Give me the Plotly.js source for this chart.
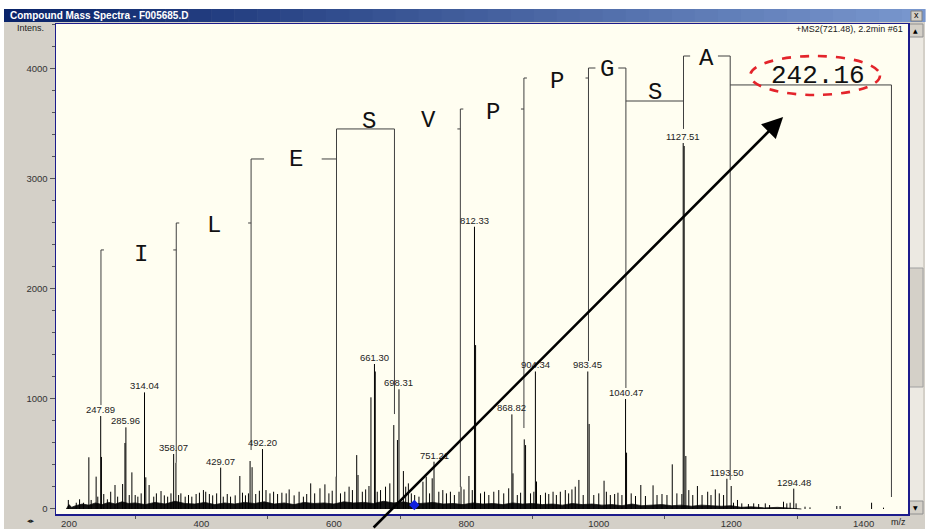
<!DOCTYPE html>
<html><head><meta charset="utf-8">
<script src="https://cdn.plot.ly/plotly-3.0.1.min.js"></script>
<style>html,body{margin:0;padding:0;background:#fff;overflow:hidden}#chart{width:931px;height:529px}</style>
</head><body><div id="chart"></div>
<script>
// ---- labelled peaks (m/z, intensity) ----
const labelMz  = [247.89, 285.96, 314.04, 358.07, 429.07, 492.20, 661.30, 698.31, 751.21, 812.33, 868.82, 904.34, 983.45, 1040.47, 1127.51, 1193.50, 1294.48];
const labelInt = [845, 742, 1060, 500, 376, 545, 1318, 1088, 430, 2566, 860, 1250, 1250, 1000, 3327, 275, 185];

// ---- other (unlabelled) peaks ----
const peakMz = [199,211,216,222,230,233.5,241,243.5,249,252.5,258,263,269.5,273.5,281,284.5,291,295,300,304,309,316,321,328,332,339,344,349,354,361.5,365.5,369,375.5,380.5,385.5,392,397,403,406.5,412,417,423,433,439,444,451,458,462,466.5,471,473.5,476.5,482,487.5,497.5,503.5,509,515,521.5,528,
532.5,540,547.5,554,559,565,571,579,586.5,592.5,597.5,603.5,610,616.5,623,628,634.5,636.5,643,648,653,656,662.5,665.5,670.5,678,684.5,690.5,696,705,708.5,712.5,717,722,728.5,734.5,739.5,744.5,748.5,758.5,764.5,770,776,782,789,792,796.5,804,809,814,821.5,827.5,834,841.5,849,856.5,864,
870.5,877,882,887.5,889.5,897,902,906,912,919.5,924.5,931,936,942,949.5,954.5,959.5,964.5,970,976.5,985.5,992.5,1000,1008,1011.5,1017.5,1024,1029,1035,1042,1049,1055.5,1063.5,1070.5,1082,1088,1095.5,1103,1111,1118,1125.5,1129,1131.5,1136,1142,1149,1156,1164.5,1169.5,1176,1182,1188.5,
1200,1203.5,1209.5,1216,1226,1234,1241.5,1251.5,1258,1279,1284,1289,1298,1311.5,1319,1359.5,1364.5,1412,1430];
const peakInt = [82,57,88,57,470,82,294,112,473,136,88,157,218,112,227,600,127,333,127,112,142,288,218,112,142,163,124,112,142,420,127,142,112,127,112,136,148,172,157,136,124,142,112,136,112,124,300,148,124,142,436,380,136,166,172,142,157,136,148,142,
178,124,157,112,136,233,142,188,224,142,166,294,142,157,203,172,490,309,157,178,209,1015,1250,157,172,203,233,763,627,345,203,233,142,127,112,248,294,142,279,157,172,142,157,127,157,203,178,300,172,1490,142,157,127,157,172,142,188,
324,127,148,633,581,142,157,250,127,148,136,157,127,157,172,142,178,203,264,127,773,127,142,257,157,127,136,148,127,512,142,118,218,118,215,127,136,127,406,142,136,3300,482,172,127,209,127,157,127,178,142,127,
209,57,82,51,45,51,45,51,36,66,51,57,51,21,15,27,27,57,12];

// ---- dense noise floor envelope (read every ~10-20 m/z) ----
const floorMz  = [196,200,204,210,220,230,240,250,260,270,280,290,300,315,330,345,360,375,390,405,420,435,450,465,480,495,510,525,540,555,570,585,600,615,630,645,660,675,690,705,720,735,750,765,780,795,810,825,840,855,870,885,900,915,930,945,960,975,990,1005,1020,1035,1050,1065,1080,1095,1110,1125,1140,1155,1170,1185,1200,1215,1230,1250,1270,1290,1300,1306];
const floorInt = [0,40,15,30,45,35,55,40,60,45,65,50,55,40,60,45,70,50,45,60,40,55,45,60,50,65,45,55,40,60,50,55,45,65,55,60,50,70,55,65,45,55,60,45,50,40,55,45,50,40,55,45,50,40,45,35,50,40,45,35,40,30,45,30,35,40,30,35,25,35,30,25,30,15,20,10,15,10,8,0];

// ---- precursor marker ----
const precursorMz = [721.48];
const precursorInt = [36];

// ---- sequence ladder ----
const ladderMz     = [248.3, 362, 475, 604, 691.5, 791, 887, 984.5, 1041, 1128, 1198.5, 1442];
const ladderTop    = [2355, 2600, 3182, 3455, 3455, 3636, 3918, 4009, 4009, 4118, 4118, 3855];
const ladderBottom = [945, 420, 536, 290, 863, 200, 736, 1345, 1100, 3455, 264, 109];
const residues   = ['I','L','E','S','V','P','P','G','S','A'];
const residueMz  = [308.6, 418.7, 542.4, 652.5, 743, 841, 937.6, 1013, 1085.4, 1162.3];
const residueInt = [2318, 2573, 3173, 3527, 3536, 3600, 3882, 3991, 3782, 4091];
const gapText = '242.16';
const gapMz = 1331, gapInt = 3936;
// horizontal brackets: left ladder index, level, gap around letter (m/z) or null
const bracketFrom  = [2, 3, 7, 8, 9, 10];
const bracketLevel = [3182, 3455, 4009, 3709, 4118, 3855];
const bracketGap   = [[494.6, 581.6], null, [995, 1029.5], null, [1138, 1180], null];
const rightTickIdx = [0, 1, 5, 6];
const leftTickIdx  = [1, 2, 5, 6, 7];

// ---------- build traces ----------
function stems(mz, it){const x=[],y=[];for(let i=0;i<mz.length;i++){x.push(mz[i],mz[i],null);y.push(0,it[i],null);}return{x,y};}
const allMz = peakMz.concat(labelMz), allInt = peakInt.concat(labelInt);
const st = stems(allMz, allInt);

const lx=[], ly=[];
const T = 4.5;
for(let i=0;i<ladderMz.length;i++){lx.push(ladderMz[i],ladderMz[i],null);ly.push(ladderBottom[i],ladderTop[i],null);}
rightTickIdx.forEach(i=>{lx.push(ladderMz[i],ladderMz[i]+T,null);ly.push(ladderTop[i],ladderTop[i],null);});
leftTickIdx.forEach(i=>{lx.push(ladderMz[i]-T,ladderMz[i],null);ly.push(ladderTop[i-1],ladderTop[i-1],null);});
bracketFrom.forEach((i,k)=>{
  const a=ladderMz[i], b=ladderMz[i+1], L=bracketLevel[k], g=bracketGap[k];
  if(g){lx.push(a,g[0],null,g[1],b,null);ly.push(L,L,null,L,L,null);}
  else{lx.push(a,b,null);ly.push(L,L,null);}
});

const traces = [
 {type:'scatter',mode:'lines',x:floorMz,y:floorInt,fill:'tozeroy',fillcolor:'#111',line:{width:0.8,color:'#111'},hoverinfo:'skip'},
 {type:'scatter',mode:'lines',x:st.x,y:st.y,line:{color:'#000',width:1},hoverinfo:'skip'},
 {type:'scatter',mode:'lines',x:lx,y:ly,line:{color:'#404040',width:1},hoverinfo:'skip'},
 {type:'scatter',mode:'markers',x:precursorMz,y:precursorInt,marker:{symbol:'diamond',size:8,color:'#1020e0'},hoverinfo:'skip'}
];

// ---------- chrome helpers (pixel -> paper) ----------
const L0=56, R0=908, T0=24, B0=514;
const X = p => (p-L0)/(R0-L0);
const Y = p => (B0-p)/(B0-T0);
function prect(x0,y0,x1,y1,fill,line,lw){return {type:'rect',xref:'paper',yref:'paper',x0:X(x0),x1:X(x1),y0:Y(y1),y1:Y(y0),fillcolor:fill,line:{color:line||fill,width:lw||0},layer:'below'};}

const shapes = [];
shapes.push(prect(0,0,931,9,'#ffffff'));
shapes.push(prect(0,9,4,529,'#ffffff'));
shapes.push(prect(925,9,931,529,'#ffffff'));
// title bar gradient
const c0=[10,36,106], c1=[120,150,205], N=40;
for(let k=0;k<N;k++){
  const t=k/(N-1); const c=c0.map((v,j)=>Math.round(v+(c1[j]-v)*t));
  const x0=4+k*(921/N), x1=4+(k+1)*(921/N)+0.6;
  shapes.push(prect(x0,9,x1,22,`rgb(${c[0]},${c[1]},${c[2]})`));
}
// close button
shapes.push(prect(911,11,922,21,'#d4d0c8','#808080',1));
// scrollbar
shapes.push(prect(909,24,923,514,'#ece9e2'));
shapes.push(prect(909,24,923,37,'#d4d0c8','#909090',1));
shapes.push(prect(909,501,923,514,'#d4d0c8','#909090',1));
shapes.push(prect(909,268,923,387,'#d4d0c8','#a0a0a0',1));
// ellipse around 242.16
shapes.push({type:'circle',xref:'x',yref:'y',x0:1228.7,x1:1424.7,y0:3764,y1:4118,line:{color:'#e3242b',width:2.6,dash:'dash'},layer:'above'});

// ---------- annotations ----------
const ann = [];
const small = {family:'Liberation Sans, Arial, sans-serif',size:9.5,color:'#222'};
labelMz.forEach((m,i)=>ann.push({x:m,y:labelInt[i],xref:'x',yref:'y',text:m.toFixed(2),showarrow:false,xanchor:'center',yanchor:'bottom',font:small,borderpad:0}));
const mono = {family:'Liberation Mono, Courier New, monospace',size:24,color:'#111'};
residues.forEach((r,i)=>ann.push({x:residueMz[i],y:residueInt[i],xref:'x',yref:'y',text:r,showarrow:false,xanchor:'center',yanchor:'middle',font:mono}));
ann.push({x:gapMz,y:gapInt,xref:'x',yref:'y',text:gapText,showarrow:false,xanchor:'center',yanchor:'middle',font:{family:mono.family,size:26,color:'#111'}});
function pann(x,y,text,font,xa){ann.push({xref:'paper',yref:'paper',x:X(x),y:Y(y),text:text,showarrow:false,xanchor:xa||'center',yanchor:'middle',font:font});}
pann(8,15.5,'<b>Compound Mass Spectra - F005685.D</b>',{family:'Liberation Sans Narrow, Liberation Sans, Arial, sans-serif',size:10,color:'#fff'},'left');
pann(916.5,15.5,'x',{family:'Liberation Sans, Arial',size:9,color:'#000'});
pann(46,28,'Intens.',{family:'Liberation Sans Narrow, Liberation Sans, Arial',size:9,color:'#222'},'right');
pann(905,28.5,'+MS2(721.48), 2.2min #61',{family:'Liberation Sans Narrow, Liberation Sans, Arial',size:9,color:'#222'},'right');
pann(898,522,'m/z',{family:'Liberation Sans, Arial',size:9,color:'#222'});
pann(31,521,'◂▸',{family:'DejaVu Sans',size:7,color:'#222'});
pann(916,30.5,'▲',{family:'DejaVu Sans',size:6,color:'#000'});
pann(916,507.5,'▼',{family:'DejaVu Sans',size:6,color:'#000'});
// arrow
ann.push({x:1278.4,y:3564,xref:'x',yref:'y',axref:'pixel',ayref:'pixel',ax:-411,ay:414,text:'',showarrow:true,arrowhead:2,arrowsize:1.6,arrowwidth:2.6,arrowcolor:'#000'});

const axFont = {family:'Liberation Sans, Arial, sans-serif',size:9.5,color:'#333'};
const layout = {
  width:931,height:529,margin:{l:L0,r:931-R0,t:T0,b:529-B0,pad:0},
  paper_bgcolor:'#d4d0c8',plot_bgcolor:'#fffef1',showlegend:false,
  xaxis:{range:[180.4,1467],tick0:200,dtick:200,ticks:'',showgrid:false,zeroline:false,showline:true,linecolor:'#1c1c8c',linewidth:1.5,mirror:true,tickfont:axFont,
         minor:{dtick:100,ticks:'outside',ticklen:3,tickcolor:'#555'}},
  yaxis:{range:[-45.5,4409],tick0:0,dtick:1000,ticks:'outside',ticklen:5,tickcolor:'#555',showgrid:false,zeroline:false,showline:true,linecolor:'#1c1c8c',linewidth:1.5,mirror:true,tickfont:axFont,
         minor:{dtick:200,ticks:'outside',ticklen:3,tickcolor:'#555'}},
  shapes:shapes,annotations:ann
};
Plotly.newPlot('chart',traces,layout,{staticPlot:true,displayModeBar:false});
</script></body></html>
